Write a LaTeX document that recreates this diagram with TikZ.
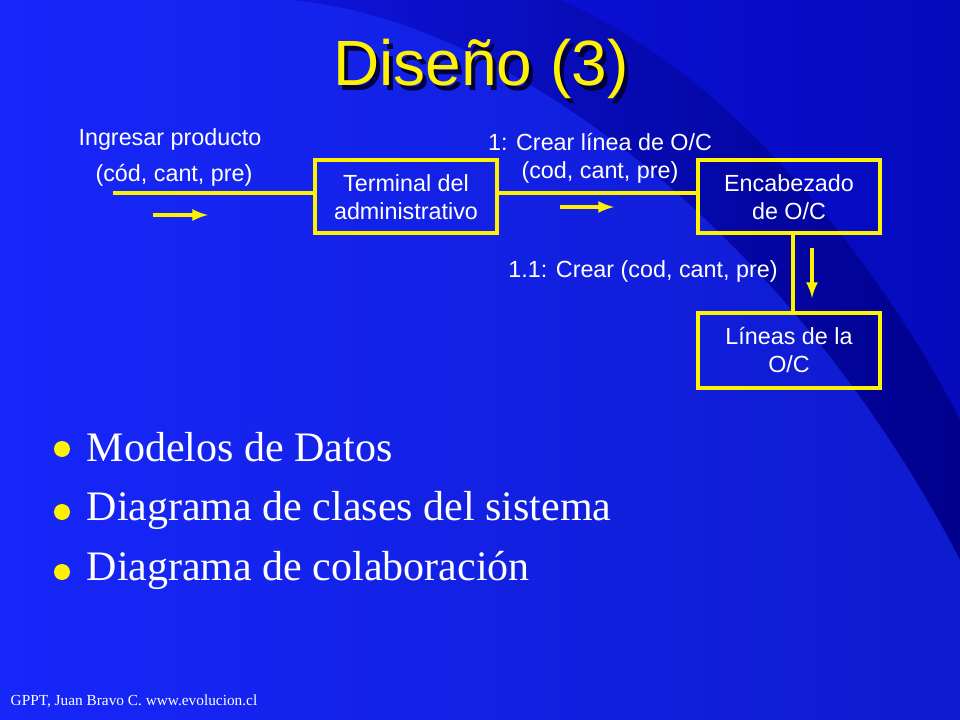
\documentclass[tikz,border=0pt]{standalone}
\usepackage{fontspec}
\setmainfont{Liberation Serif}
\newfontfamily\arial{Liberation Sans}
\definecolor{bgA}{RGB}{20,30,250}
\definecolor{bgB}{RGB}{0,0,140}
\definecolor{bgC}{RGB}{25,45,250}
\definecolor{bgD}{RGB}{10,20,235}
\definecolor{shad}{RGB}{0,0,60}
\begin{document}
\begin{tikzpicture}[x=0.75pt,y=-0.75pt,
  box/.style={draw=yellow,line width=3pt,fill=none},
  lbl/.style={text=white,font=\arial\fontsize{17.5}{21}\selectfont,align=center},
  yl/.style={draw=yellow,line width=3pt},
  ar/.style={draw=yellow,line width=3pt,-latex},
  bul/.style={text=white,font=\fontsize{31.5}{34}\selectfont,anchor=west}]
\useasboundingbox (0,0) rectangle (960,720);
\shade[left color=bgA,right color=bgB] (0,0) rectangle (960,720);
\fill[bgC,opacity=0.6] (290,0) .. controls (520,20) and (800,250) .. (960,560) -- (960,720) -- (0,720) -- (0,0) -- cycle;
\fill[bgD,opacity=0.5] (560,0) .. controls (750,80) and (900,300) .. (960,420) -- (960,0) -- cycle;
\node[text=shad,font=\arial\fontsize{48}{52}\selectfont] at (485,74) {Diseño (3)};
\node[text=yellow,font=\arial\fontsize{48}{52}\selectfont] (title) at (481,69) {Diseño (3)};
\node[box,minimum width=182*0.75pt,minimum height=73*0.75pt] (term) at (406,197) {};
\node[lbl] at (term) {Terminal del\\administrativo};
\node[box,minimum width=182*0.75pt,minimum height=73*0.75pt] (enc) at (789,197) {};
\node[lbl] at (enc) {Encabezado\\de O/C};
\node[box,minimum width=182*0.75pt,minimum height=75*0.75pt] (lin) at (789,350) {};
\node[lbl] at (lin) {Líneas de la\\O/C};
\coordinate (start) at (113,193);
\draw[yl] (start) -- (term.west|-start);
\draw[yl] (term.east|-start) -- (enc.west|-start);
\draw[yl] (enc.south-|793,0) -- (lin.north-|793,0);
\coordinate (a1) at (153,215); \coordinate (a1e) at (208,215);
\coordinate (a2) at (560,207); \coordinate (a2e) at (614,207);
\coordinate (a3) at (812,248); \coordinate (a3e) at (812,298);
\draw[ar] (a1) -- (a1e);
\draw[ar] (a2) -- (a2e);
\draw[ar] (a3) -- (a3e);
\node[lbl] (l1) at (170,139) {Ingresar producto};
\node[lbl] (l2) at (174,175) {(cód, cant, pre)};
\node[lbl] (l3) at (600,158) {1: Crear línea de O/C\\(cod, cant, pre)};
\node[lbl] (l4) at (643,271) {1.1: Crear (cod, cant, pre)};
\foreach \y/\t [count=\i] in {447/Modelos de Datos,510/Diagrama de clases del sistema,570/Diagrama de colaboración}{
  \fill[yellow] (62,\y+2) circle (8);
  \node[bul] (b\i) at (82,\y) {\t};
}
\node[text=white,font=\fontsize{11.5}{13}\selectfont,anchor=west] (foot) at (6,701) {GPPT, Juan Bravo C. www.evolucion.cl};
\end{tikzpicture}
\end{document}
